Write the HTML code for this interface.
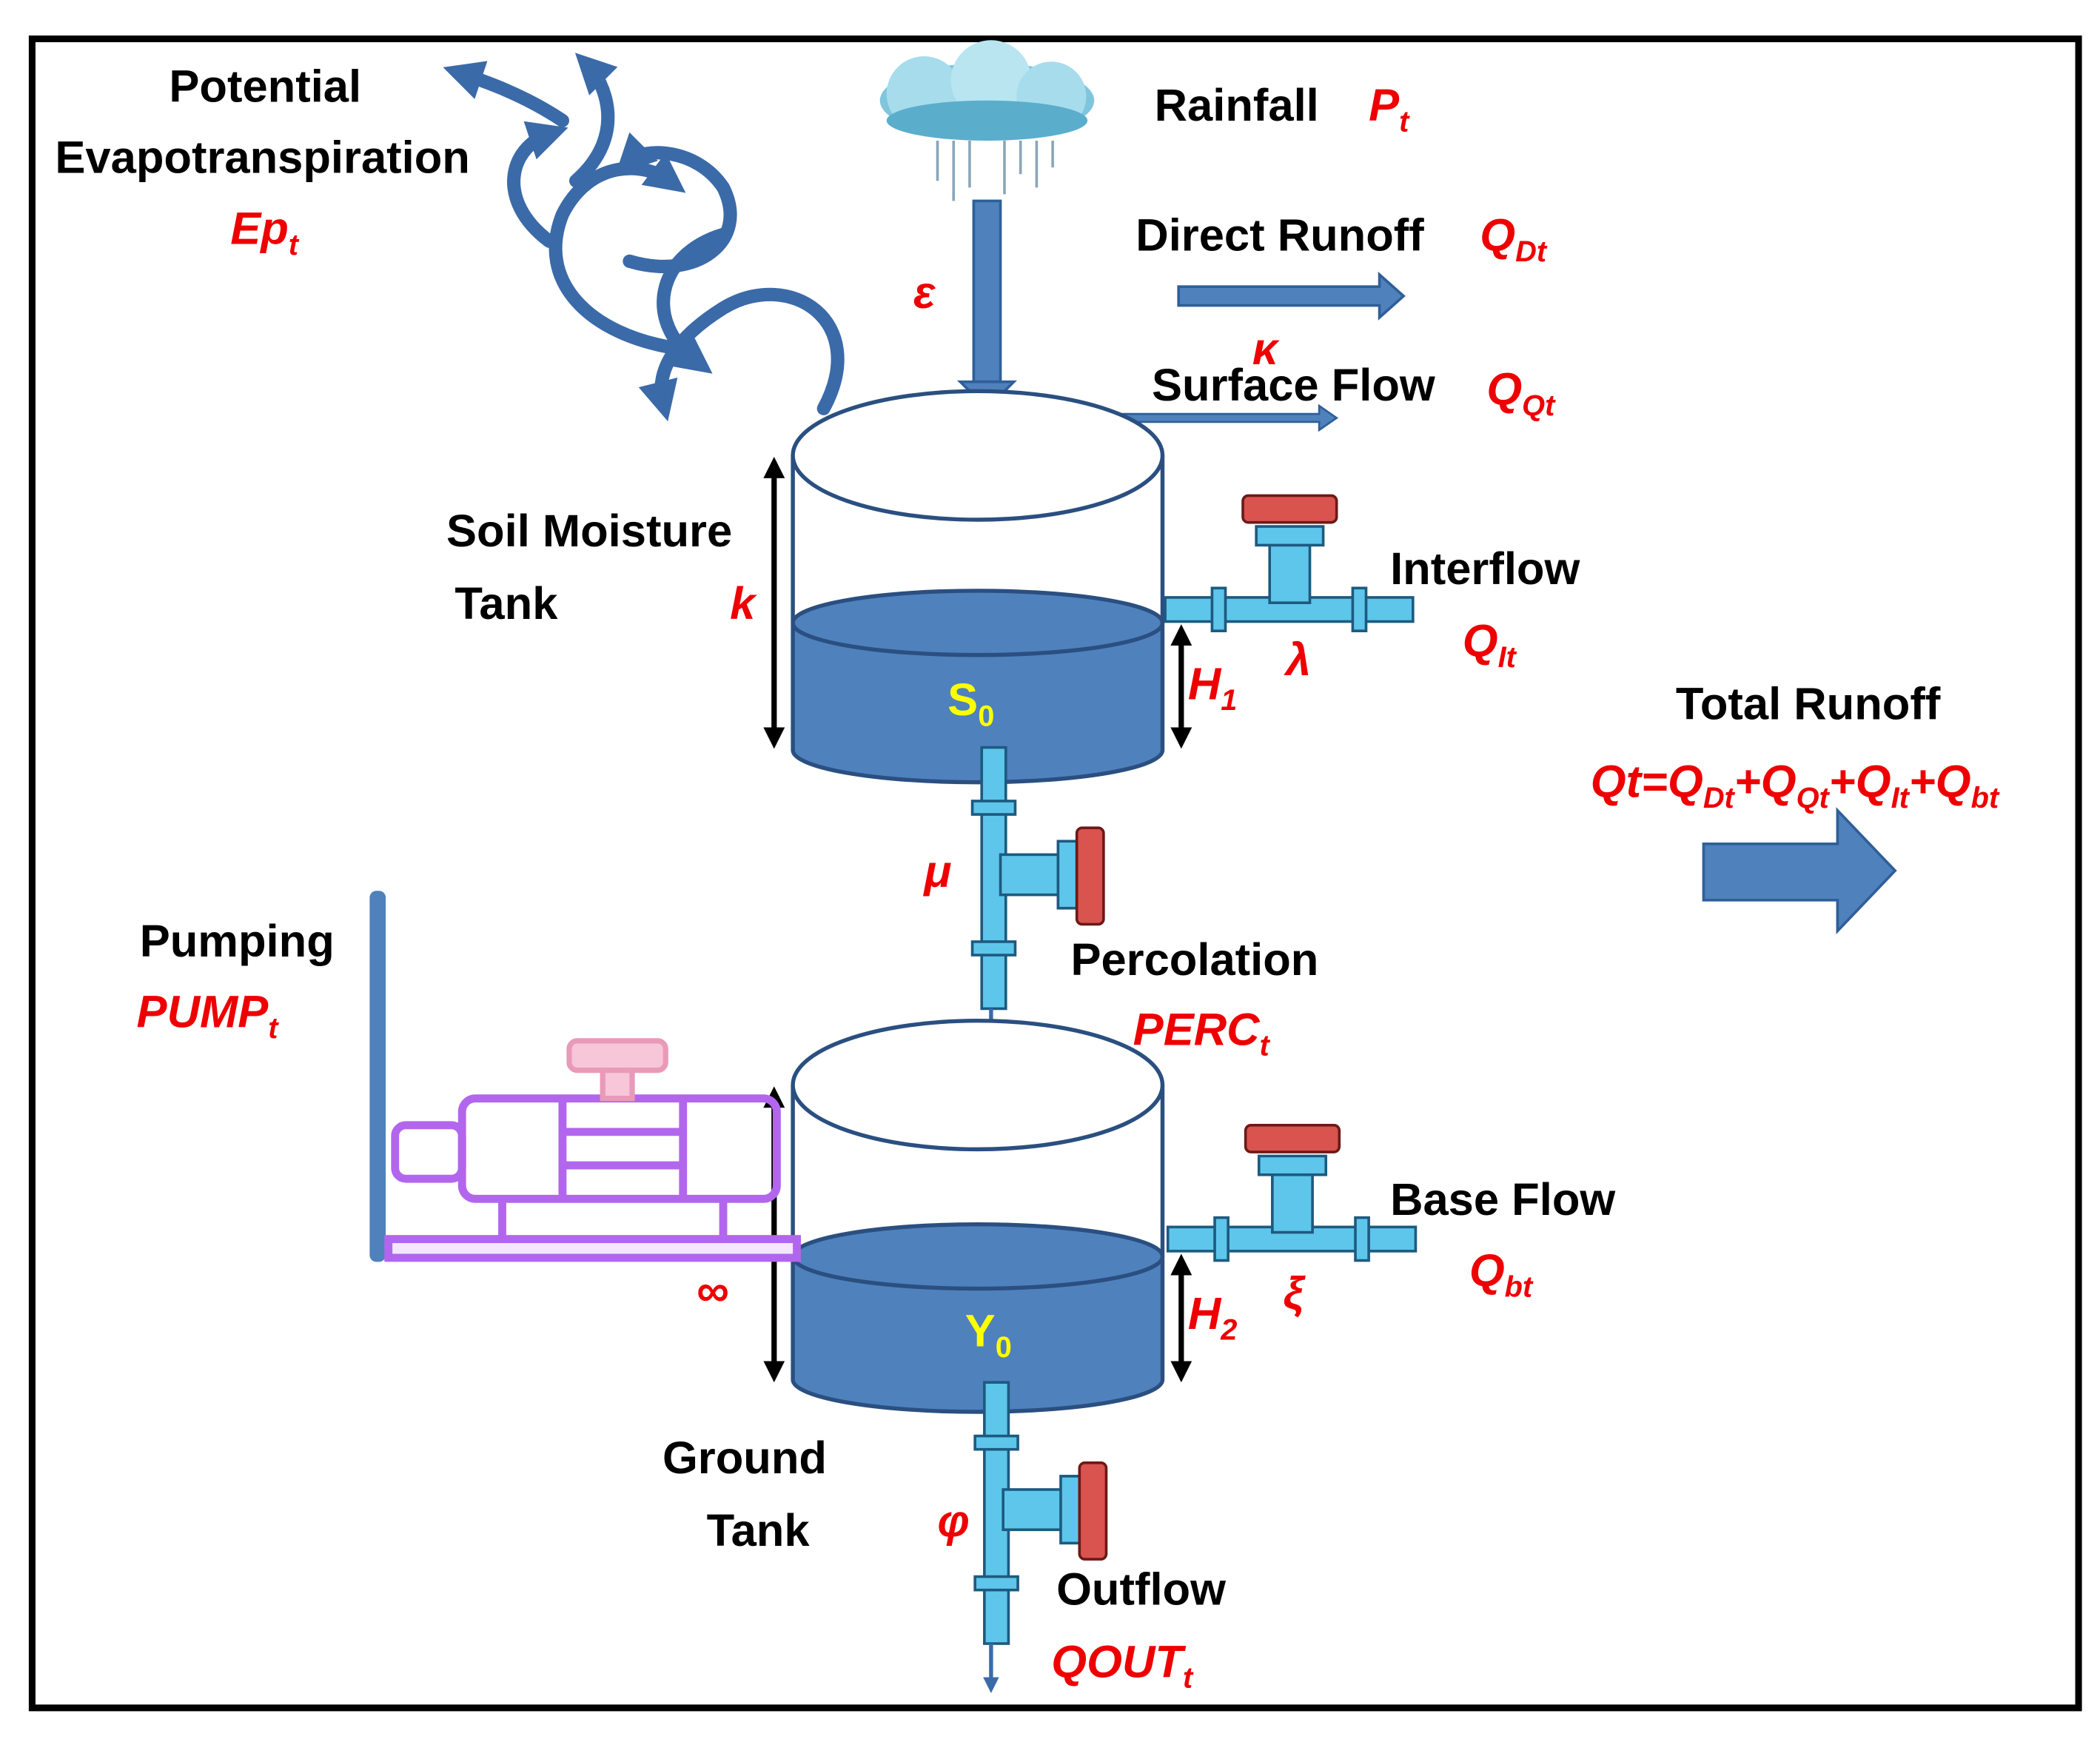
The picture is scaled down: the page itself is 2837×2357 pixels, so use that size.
<!DOCTYPE html>
<html><head><meta charset="utf-8"><style>
html,body{margin:0;padding:0;background:#fff;}
svg{display:block;}
text{font-family:"Liberation Sans",sans-serif;font-weight:bold;}
.b{fill:#000;font-size:34px;}
.r{fill:#e00;font-size:34px;font-style:italic;}
.rs{fill:#e00;font-size:22px;font-style:italic;}
</style></head><body>
<svg width="2837" height="2357" viewBox="0 0 1568 1302.7" xmlns="http://www.w3.org/2000/svg">
<defs>
<marker id="ah" markerWidth="4" markerHeight="4" refX="3" refY="2" orient="auto-start-reverse" markerUnits="strokeWidth"><path d="M0,0 L4,2 L0,4 z" fill="#000"/></marker>
<marker id="bh" markerWidth="3" markerHeight="3" refX="1.5" refY="1.5" orient="auto" markerUnits="strokeWidth"><path d="M0,0 L3,1.5 L0,3 z" fill="#3b6aa8"/></marker>
<marker id="sh" markerWidth="4" markerHeight="4" refX="2" refY="2" orient="auto" markerUnits="strokeWidth"><path d="M0,0 L4,2 L0,4 z" fill="#3b6aa8"/></marker>
<g id="valveH">
<rect x="0" y="-9" width="185" height="18" fill="#5ec6ea" stroke="#1d5a80" stroke-width="2"/>
<rect x="35" y="-16" width="10" height="32" fill="#5ec6ea" stroke="#1d5a80" stroke-width="2"/>
<rect x="140" y="-16" width="10" height="32" fill="#5ec6ea" stroke="#1d5a80" stroke-width="2"/>
<rect x="78" y="-50" width="30" height="45" fill="#5ec6ea" stroke="#1d5a80" stroke-width="2"/>
<rect x="68" y="-62" width="50" height="14" fill="#5ec6ea" stroke="#1d5a80" stroke-width="2"/>
<rect x="58" y="-85" width="70" height="20" rx="4" fill="#d9534f" stroke="#6b1a17" stroke-width="2"/>
</g>
<g id="valveV">
<rect x="-9" y="0" width="18" height="195" fill="#5ec6ea" stroke="#1d5a80" stroke-width="2"/>
<rect x="-16" y="40" width="32" height="10" fill="#5ec6ea" stroke="#1d5a80" stroke-width="2"/>
<rect x="-16" y="145" width="32" height="10" fill="#5ec6ea" stroke="#1d5a80" stroke-width="2"/>
<rect x="5" y="80" width="45" height="30" fill="#5ec6ea" stroke="#1d5a80" stroke-width="2"/>
<rect x="48" y="70" width="14" height="50" fill="#5ec6ea" stroke="#1d5a80" stroke-width="2"/>
<rect x="62" y="60" width="20" height="72" rx="4" fill="#d9534f" stroke="#6b1a17" stroke-width="2"/>
</g>
</defs>
<rect x="24" y="29" width="1528" height="1246" fill="none" stroke="#000" stroke-width="5"/>

<g fill="none" stroke="#3b6aa8" stroke-width="10" stroke-linecap="round">
<path d="M615,305 C650,240 590,200 540,230 C500,255 490,280 495,300" marker-end="url(#bh)"/>
<path d="M540,175 C490,190 480,240 520,270" marker-end="url(#bh)"/>
<path d="M505,260 C440,250 400,210 420,160 C440,120 480,120 500,135" marker-end="url(#bh)"/>
<path d="M470,195 C520,210 560,180 540,140 C520,110 480,110 470,120" marker-end="url(#bh)"/>
<path d="M410,180 C370,150 380,110 410,100" marker-end="url(#bh)"/>
<path d="M430,135 C470,100 450,60 440,50" marker-end="url(#bh)"/>
<path d="M420,90 C390,70 360,60 345,55" marker-end="url(#bh)"/>
</g>

<g>
<ellipse cx="737" cy="75" rx="80" ry="28" fill="#7fc6dd"/>
<circle cx="690" cy="70" r="28" fill="#a7dcec"/>
<circle cx="740" cy="60" r="30" fill="#b9e5f1"/>
<circle cx="785" cy="72" r="26" fill="#a7dcec"/>
<ellipse cx="737" cy="90" rx="75" ry="15" fill="#5aaecb"/>
<g stroke="#8aa6b8" stroke-width="2">
<line x1="700" y1="105" x2="700" y2="135"/><line x1="712" y1="105" x2="712" y2="150"/><line x1="724" y1="105" x2="724" y2="140"/><line x1="750" y1="105" x2="750" y2="145"/><line x1="762" y1="105" x2="762" y2="130"/><line x1="774" y1="105" x2="774" y2="140"/><line x1="786" y1="105" x2="786" y2="125"/>
</g>
</g>
<text class="b" x="862" y="90">Rainfall</text>
<text class="r" x="1022" y="90">P<tspan class="rs" dy="8">t</tspan></text>
<text class="b" x="198" y="76" text-anchor="middle">Potential</text>
<text class="b" x="196" y="129" text-anchor="middle">Evapotranspiration</text>
<text class="r" x="172" y="182">Ep<tspan class="rs" dy="8">t</tspan></text>

<rect x="727" y="150" width="20" height="135" fill="#4f81bd" stroke="#2f5f98" stroke-width="2"/>
<path d="M717,285 L757,285 L737,305 z" fill="#4f81bd" stroke="#2f5f98" stroke-width="2"/>
<text class="r" x="682" y="230">ε</text>

<text class="b" x="848" y="187">Direct Runoff</text>
<text class="r" x="1105" y="187">Q<tspan class="rs" dy="8">Dt</tspan></text>
<path d="M880,214 L1030,214 L1030,205 L1048,221 L1030,237 L1030,228 L880,228 z" fill="#4f81bd" stroke="#2f5f98" stroke-width="2"/>
<text class="r" x="935" y="272" font-size="26">κ</text>
<text class="b" x="860" y="299">Surface Flow</text>
<text class="r" x="1110" y="302">Q<tspan class="rs" dy="8">Qt</tspan></text>
<path d="M830,309 L985,309 L985,303 L998,312 L985,321 L985,315 L830,315 z" fill="#4f81bd" stroke="#2f5f98" stroke-width="1.5"/>

<path d="M592,465 L592,560 A138,24 0 0 0 868,560 L868,465 z" fill="#4f81bd"/>
<ellipse cx="730" cy="465" rx="138" ry="24" fill="#4f81bd" stroke="#2a4f80" stroke-width="3"/>
<path d="M592,340 L592,560 A138,24 0 0 0 868,560 L868,340" fill="none" stroke="#2a4f80" stroke-width="3"/>
<ellipse cx="730" cy="340" rx="138" ry="48" fill="#fff" stroke="#2a4f80" stroke-width="3"/>
<text x="725" y="534" fill="#ff0" font-size="34" text-anchor="middle">S<tspan font-size="22" dy="8">0</tspan></text>
<text class="b" x="440" y="408" text-anchor="middle">Soil Moisture</text>
<text class="b" x="378" y="462" text-anchor="middle">Tank</text>
<text class="r" x="545" y="462">k</text>
<line x1="578" y1="345" x2="578" y2="555" stroke="#000" stroke-width="4" marker-start="url(#ah)" marker-end="url(#ah)"/>
<line x1="882" y1="470" x2="882" y2="555" stroke="#000" stroke-width="4" marker-start="url(#ah)" marker-end="url(#ah)"/>
<text class="r" x="887" y="522">H<tspan class="rs" dy="8">1</tspan></text>

<use href="#valveH" x="870" y="455"/>
<text class="b" x="1038" y="436">Interflow</text>
<text class="r" x="1092" y="490">Q<tspan class="rs" dy="8">It</tspan></text>
<text class="r" x="960" y="504">λ</text>

<text class="b" x="1350" y="537" text-anchor="middle" font-size="38">Total Runoff</text>
<text class="r" x="1340" y="595" text-anchor="middle">Qt=Q<tspan class="rs" dy="8">Dt</tspan><tspan dy="-8">+Q</tspan><tspan class="rs" dy="8">Qt</tspan><tspan dy="-8">+Q</tspan><tspan class="rs" dy="8">It</tspan><tspan dy="-8">+Q</tspan><tspan class="rs" dy="8">bt</tspan></text>
<path d="M1272,630 L1372,630 L1372,605 L1415,650 L1372,695 L1372,672 L1272,672 z" fill="#4f81bd" stroke="#2f5f98" stroke-width="2"/>

<use href="#valveV" x="742" y="558"/>
<text class="r" x="690" y="662">μ</text>
<text class="b" x="892" y="728" text-anchor="middle">Percolation</text>
<text class="r" x="846" y="780">PERC<tspan class="rs" dy="8">t</tspan></text>
<line x1="740" y1="753" x2="740" y2="798" stroke="#3b6aa8" stroke-width="3" marker-end="url(#sh)"/>

<path d="M592,938 L592,1030 A138,24 0 0 0 868,1030 L868,938 z" fill="#4f81bd"/>
<ellipse cx="730" cy="938" rx="138" ry="24" fill="#4f81bd" stroke="#2a4f80" stroke-width="3"/>
<path d="M592,810 L592,1030 A138,24 0 0 0 868,1030 L868,810" fill="none" stroke="#2a4f80" stroke-width="3"/>
<ellipse cx="730" cy="810" rx="138" ry="48" fill="#fff" stroke="#2a4f80" stroke-width="3"/>
<text x="738" y="1005" fill="#ff0" font-size="34" text-anchor="middle">Y<tspan font-size="22" dy="8">0</tspan></text>
<line x1="578" y1="815" x2="578" y2="1028" stroke="#000" stroke-width="4" marker-start="url(#ah)" marker-end="url(#ah)"/>
<line x1="882" y1="940" x2="882" y2="1028" stroke="#000" stroke-width="4" marker-start="url(#ah)" marker-end="url(#ah)"/>
<text class="r" x="887" y="992">H<tspan class="rs" dy="8">2</tspan></text>
<text class="r" x="520" y="975">∞</text>

<use href="#valveH" x="872" y="925"/>
<text class="b" x="1038" y="907">Base Flow</text>
<text class="r" x="1097" y="960">Q<tspan class="rs" dy="8">bt</tspan></text>
<text class="r" x="958" y="977">ξ</text>

<rect x="276" y="665" width="12" height="277" rx="5" fill="#4f81bd"/>
<g fill="none" stroke="#b266ee" stroke-width="6">
<rect x="290" y="925" width="305" height="14" fill="#f3e6ff"/>
<rect x="345" y="820" width="235" height="75" rx="10"/>
<line x1="420" y1="820" x2="420" y2="895"/><line x1="510" y1="820" x2="510" y2="895"/>
<line x1="420" y1="845" x2="510" y2="845"/><line x1="420" y1="870" x2="510" y2="870"/>
<rect x="295" y="840" width="50" height="40" rx="8"/>
<line x1="375" y1="895" x2="375" y2="925"/><line x1="540" y1="895" x2="540" y2="925"/>
</g>
<g fill="#f7c6d8" stroke="#e99ab8" stroke-width="4">
<rect x="425" y="777" width="72" height="22" rx="6"/>
<rect x="450" y="799" width="22" height="21"/>
</g>
<text class="b" x="177" y="714" text-anchor="middle">Pumping</text>
<text class="r" x="102" y="767">PUMP<tspan class="rs" dy="8">t</tspan></text>

<text class="b" x="556" y="1100" text-anchor="middle">Ground</text>
<text class="b" x="566" y="1154" text-anchor="middle">Tank</text>

<use href="#valveV" x="744" y="1032"/>
<text class="r" x="700" y="1147">φ</text>
<line x1="740" y1="1227" x2="740" y2="1258" stroke="#3b6aa8" stroke-width="3" marker-end="url(#sh)"/>
<text class="b" x="852" y="1198" text-anchor="middle">Outflow</text>
<text class="r" x="785" y="1252">QOUT<tspan class="rs" dy="8">t</tspan></text>
</svg>
</body></html>
